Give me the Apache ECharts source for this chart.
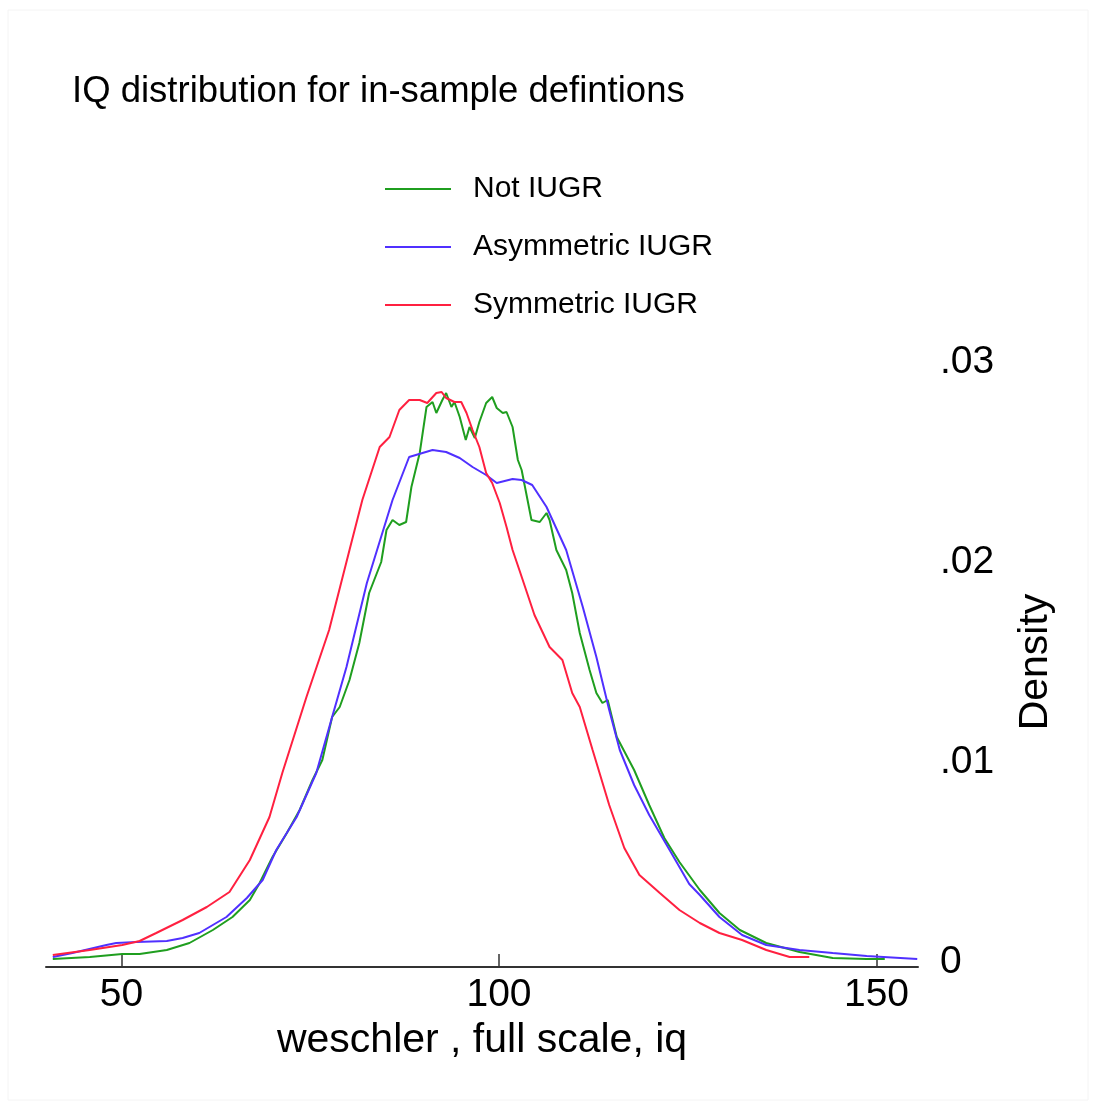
<!DOCTYPE html>
<html>
<head>
<meta charset="utf-8">
<script src="https://cdn.jsdelivr.net/npm/echarts@6/dist/echarts.min.js"></script>
<style>
  html, body { margin: 0; padding: 0; background: #fff; }
  #chart { width: 1096px; height: 1103px; }
</style>
</head>
<body>
<div id="chart"></div>
<script>
// kernel density estimates
var notIugrX = [40.9, 45.8, 50.1, 52.4, 56.0, 59.0, 62.1, 64.7, 67.0, 68.3, 70.0, 71.9, 73.6, 75.3, 76.6, 77.9, 78.9, 80.2, 81.5, 82.8, 84.4, 85.1, 85.9, 86.8, 87.7, 88.4, 89.5, 90.4, 91.2, 91.7, 92.5, 93.0, 93.7, 94.1, 94.8, 95.6, 96.1, 96.8, 97.4, 98.3, 99.1, 99.7, 100.5, 101.0, 101.8, 102.5, 103.0, 103.6, 104.3, 105.4, 106.3, 106.7, 107.6, 108.9, 109.7, 110.7, 112.0, 112.9, 113.7, 114.4, 115.6, 117.9, 119.9, 121.9, 123.9, 126.6, 129.2, 131.9, 135.4, 139.8, 144.2, 148.7, 151.1]
var notIugrY = [0.00015, 0.00025, 0.0004, 0.0004, 0.0006, 0.00095, 0.0016, 0.00225, 0.0031, 0.00395, 0.00525, 0.00645, 0.0076, 0.0091, 0.0101, 0.01225, 0.01275, 0.0141, 0.01595, 0.01845, 0.02, 0.0216, 0.0221, 0.02185, 0.022, 0.02375, 0.02545, 0.02775, 0.028, 0.02745, 0.0281, 0.02845, 0.02775, 0.028, 0.02725, 0.0261, 0.02675, 0.0262, 0.027, 0.02795, 0.02825, 0.0277, 0.02745, 0.0275, 0.02675, 0.0251, 0.0246, 0.02345, 0.0221, 0.022, 0.02245, 0.0221, 0.0206, 0.0196, 0.01845, 0.01645, 0.0146, 0.01345, 0.01295, 0.0131, 0.01125, 0.0096, 0.00785, 0.0062, 0.005, 0.0036, 0.00245, 0.0016, 0.00095, 0.0005, 0.0002, 0.00015, 0.00015]

var asymX = [40.9, 43.5, 48.0, 49.3, 52.0, 56.0, 58.1, 60.3, 63.9, 66.6, 68.7, 70.5, 73.2, 75.8, 77.9, 79.8, 82.5, 85.9, 88.1, 91.2, 93.0, 94.8, 96.5, 98.3, 99.7, 101.8, 103.0, 104.4, 106.3, 108.9, 111.1, 112.9, 114.6, 116.0, 117.9, 119.9, 122.6, 125.2, 126.6, 129.2, 132.2, 135.4, 139.8, 144.2, 148.7, 155.4]
var asymY = [0.00025, 0.00045, 0.00085, 0.00095, 0.001, 0.00105, 0.0012, 0.00145, 0.00225, 0.0032, 0.0041, 0.0056, 0.00725, 0.00945, 0.01225, 0.01475, 0.01895, 0.0231, 0.02525, 0.0256, 0.0255, 0.0252, 0.02475, 0.02435, 0.02395, 0.02415, 0.0241, 0.02385, 0.02275, 0.0206, 0.01775, 0.01525, 0.0126, 0.0106, 0.00885, 0.00735, 0.0056, 0.0039, 0.00335, 0.00225, 0.00135, 0.00085, 0.0006, 0.00045, 0.0003, 0.00015]

var symX = [40.9, 45.8, 50.1, 52.4, 54.6, 58.1, 61.3, 64.3, 67.0, 69.6, 71.3, 74.5, 77.5, 80.2, 81.9, 84.2, 85.5, 86.8, 88.1, 89.5, 90.5, 91.7, 92.4, 93.0, 94.1, 95.0, 95.7, 96.5, 97.4, 98.3, 99.1, 100.1, 101.0, 101.8, 102.7, 104.7, 106.7, 108.4, 109.7, 110.7, 112.4, 114.6, 116.6, 118.6, 121.3, 123.9, 126.6, 129.2, 132.2, 135.4, 138.5, 141.1]
var symY = [0.00035, 0.0006, 0.00085, 0.00105, 0.00145, 0.0021, 0.00275, 0.0035, 0.0051, 0.00725, 0.00945, 0.01325, 0.0166, 0.0206, 0.0231, 0.02575, 0.02625, 0.0276, 0.0281, 0.0281, 0.02795, 0.02845, 0.0285, 0.0282, 0.028, 0.028, 0.02745, 0.0266, 0.02575, 0.02445, 0.02395, 0.02295, 0.02175, 0.0206, 0.0196, 0.01735, 0.01575, 0.0151, 0.01345, 0.01275, 0.0106, 0.00785, 0.0057, 0.00435, 0.00345, 0.0026, 0.00195, 0.00145, 0.0011, 0.0006, 0.00025, 0.00025]

var seriesNames = ['Not IUGR', 'Asymmetric IUGR', 'Symmetric IUGR']
var xTicks = [50, 100, 150]

function pairs(xs, ys) {
  return xs.map(function (x, i) { return [x, ys[i]] })
}

var font = '"Liberation Sans", Arial, Helvetica, sans-serif'
var chart = echarts.init(document.getElementById('chart'))

chart.setOption({
  animation: false,
  backgroundColor: '#fff',
  textStyle: { fontFamily: font },
  title: {
    text: 'IQ distribution for in-sample defintions',
    left: 72,
    top: 73,
    padding: 0,
    textStyle: { fontFamily: font, fontSize: 36.5, fontWeight: 'normal', color: '#000' }
  },
  legend: {
    orient: 'vertical',
    left: 385,
    top: 174,
    padding: 0,
    icon: 'rect',
    itemWidth: 66,
    itemHeight: 2,
    itemGap: 28,
    data: seriesNames,
    textStyle: {
      fontFamily: font,
      fontSize: 30,
      lineHeight: 30,
      color: '#000',
      padding: [0, 0, 0, 17]
    }
  },
  graphic: [{
    type: 'rect',
    shape: { x: 8, y: 10, width: 1080, height: 1090 },
    style: { fill: 'none', stroke: '#f4f4f4', lineWidth: 1 },
    silent: true
  }],
  grid: {
    left: 46,
    right: 178,
    top: 362,
    bottom: 141
  },
  xAxis: {
    type: 'value',
    min: 40,
    max: 155.5,
    offset: 5,
    name: 'weschler , full scale, iq',
    nameLocation: 'middle',
    nameGap: 51,
    nameTextStyle: { fontFamily: font, fontSize: 41, color: '#000' },
    axisLine: { onZero: false, lineStyle: { color: '#333', width: 2 } },
    axisTick: {
      inside: true,
      length: 13,
      customValues: xTicks,
      lineStyle: { color: '#333', width: 1.5 }
    },
    axisLabel: {
      customValues: xTicks,
      margin: 9,
      fontFamily: font,
      fontSize: 39,
      color: '#000'
    },
    splitLine: { show: false }
  },
  yAxis: {
    type: 'value',
    position: 'right',
    min: 0,
    max: 0.03,
    interval: 0.01,
    name: 'Density',
    nameLocation: 'middle',
    nameRotate: 90,
    nameGap: 97,
    nameTextStyle: { fontFamily: font, fontSize: 41, color: '#000' },
    axisLine: { show: false },
    axisTick: { show: false },
    axisLabel: {
      margin: 22,
      fontFamily: font,
      fontSize: 39,
      color: '#000',
      formatter: function (v) {
        if (v === 0) return '0'
        return '.0' + Math.round(v * 100)
      }
    },
    splitLine: { show: false }
  },
  series: [
    {
      name: seriesNames[0],
      type: 'line',
      showSymbol: false,
      color: '#1f9e1f',
      lineStyle: { width: 2 },
      data: pairs(notIugrX, notIugrY)
    },
    {
      name: seriesNames[1],
      type: 'line',
      showSymbol: false,
      color: '#5030ff',
      lineStyle: { width: 2 },
      data: pairs(asymX, asymY)
    },
    {
      name: seriesNames[2],
      type: 'line',
      showSymbol: false,
      color: '#ff2040',
      lineStyle: { width: 2 },
      data: pairs(symX, symY)
    }
  ]
})
</script>
</body>
</html>
